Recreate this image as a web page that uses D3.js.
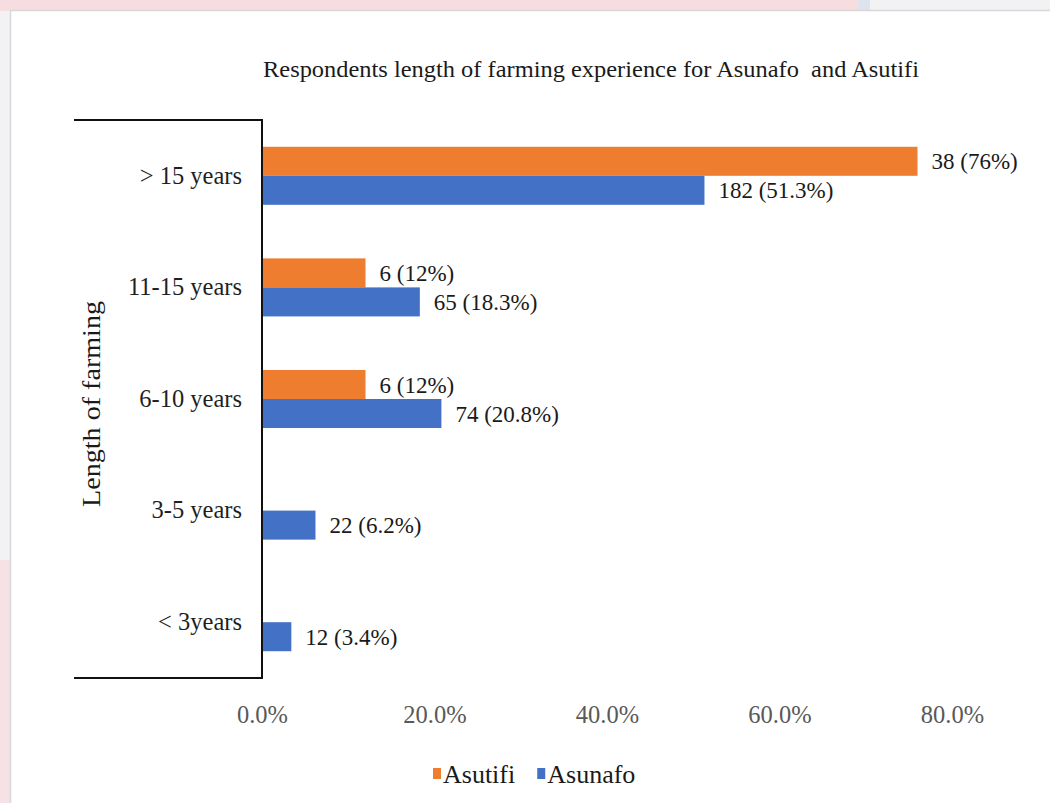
<!DOCTYPE html>
<html>
<head>
<meta charset="utf-8">
<script src="https://cdn.jsdelivr.net/npm/d3@7"></script>
<style>
  html, body { margin: 0; padding: 0; background: #ffffff; }
  svg { display: block; }
  text { font-family: "Liberation Serif", "Times New Roman", serif; white-space: pre; }
</style>
</head>
<body>
<svg id="chart" width="1050" height="803"></svg>
<script>
// Farming experience categories, listed top to bottom
const categories = ["> 15 years", "11-15 years", "6-10 years", "3-5 years", "< 3years"];
const seriesNames = ["Asutifi", "Asunafo"];
// Share of respondents (%) per category
const asutifiPct = [76, 12, 12, null, null];
const asunafoPct = [51.3, 18.3, 20.8, 6.2, 3.4];
// Respondent counts per category
const asutifiCount = [38, 6, 6, null, null];
const asunafoCount = [182, 65, 74, 22, 12];
const xTicks = [0, 20, 40, 60, 80];

const colors = { Asutifi: "#EE7D2F", Asunafo: "#4271C6" };

const svg = d3.select("#chart");

// Page backdrop and the white card holding the chart
svg.append("rect").attr("width", 1050).attr("height", 803).attr("fill", "#f2f2f4");
svg.append("rect").attr("x", 0).attr("y", 0).attr("width", 858).attr("height", 11).attr("fill", "#f7dde0");
svg.append("rect").attr("x", 858).attr("y", 0).attr("width", 12).attr("height", 11).attr("fill", "#dfe3ee");
svg.append("rect").attr("x", 0).attr("y", 560).attr("width", 10).attr("height", 243).attr("fill", "#f6e1e4");
svg.append("rect").attr("x", 10.5).attr("y", 10.5).attr("width", 1045).attr("height", 800)
  .attr("fill", "#ffffff").attr("stroke", "#d8d8d8").attr("stroke-width", 1.5);

const plotLeft = 262, plotRight = 952, plotTop = 120, plotBottom = 678;

const x = d3.scaleLinear().domain([0, 80]).range([plotLeft, plotRight]);
const y = d3.scaleBand().domain(categories).range([plotTop, plotBottom])
  .paddingInner(0.48).paddingOuter(0.24);
const ySub = d3.scaleBand().domain(seriesNames).range([0, y.bandwidth()]);

// Title
svg.append("text")
  .attr("x", 591).attr("y", 77)
  .attr("text-anchor", "middle")
  .attr("font-size", 24)
  .attr("textLength", 656)
  .attr("lengthAdjust", "spacingAndGlyphs")
  .attr("fill", "#1a1a1a")
  .text("Respondents length of farming experience for Asunafo  and Asutifi");

// Rows of data
const rows = categories.map((c, i) => ({
  cat: c,
  vals: [
    { s: "Asutifi", v: asutifiPct[i], n: asutifiCount[i] },
    { s: "Asunafo", v: asunafoPct[i], n: asunafoCount[i] }
  ].filter(d => d.v != null)
}));

const groups = svg.append("g").selectAll("g").data(rows).join("g")
  .attr("transform", d => `translate(0,${y(d.cat)})`);

groups.selectAll("rect").data(d => d.vals).join("rect")
  .attr("x", x(0))
  .attr("y", d => ySub(d.s))
  .attr("width", d => x(d.v) - x(0))
  .attr("height", ySub.bandwidth())
  .attr("fill", d => colors[d.s]);

groups.selectAll("text.val").data(d => d.vals).join("text")
  .attr("class", "val")
  .attr("x", d => x(d.v) + 14)
  .attr("y", d => ySub(d.s) + ySub.bandwidth() / 2)
  .attr("dy", "0.35em")
  .attr("font-size", 23)
  .attr("fill", "#1a1a1a")
  .text(d => `${d.n} (${d.v}%)`);

// Category axis: bracket-shaped frame with labels
const yAxis = svg.append("g").attr("transform", `translate(${plotLeft},0)`)
  .call(d3.axisLeft(y).tickSize(0).tickPadding(20));
yAxis.select(".domain").remove();
yAxis.selectAll("text")
  .attr("font-family", "Liberation Serif, Times New Roman, serif")
  .attr("font-size", 24.5)
  .attr("fill", "#1f1f1f");

svg.append("path")
  .attr("d", `M74,${plotTop}H${plotLeft}V${plotBottom}H74`)
  .attr("fill", "none")
  .attr("stroke", "#111111")
  .attr("stroke-width", 2);

// Value axis labels
const xAxis = svg.append("g").attr("transform", `translate(0,${plotBottom})`)
  .call(d3.axisBottom(x).tickValues(xTicks).tickSize(0).tickPadding(28)
    .tickFormat(d => d.toFixed(1) + "%"));
xAxis.select(".domain").remove();
xAxis.selectAll("text")
  .attr("font-family", "Liberation Serif, Times New Roman, serif")
  .attr("font-size", 24.5)
  .attr("fill", "#595959");

// Axis title
svg.append("text")
  .attr("transform", "translate(100,404) rotate(-90)")
  .attr("text-anchor", "middle")
  .attr("font-size", 26)
  .attr("textLength", 206)
  .attr("lengthAdjust", "spacingAndGlyphs")
  .attr("fill", "#1a1a1a")
  .text("Length of farming");

// Legend
const legend = svg.append("g").attr("transform", "translate(433,774)");
let lx = 0;
seriesNames.forEach(s => {
  const g = legend.append("g").attr("transform", `translate(${lx},0)`);
  g.append("rect").attr("x", 0).attr("y", -6).attr("width", 8).attr("height", 11).attr("fill", colors[s]);
  const t = g.append("text").attr("x", 10).attr("y", 0).attr("dy", "0.35em")
    .attr("font-size", 26).attr("fill", "#1a1a1a").text(s);
  lx += 10 + t.node().getComputedTextLength() + 22;
});
</script>
</body>
</html>
